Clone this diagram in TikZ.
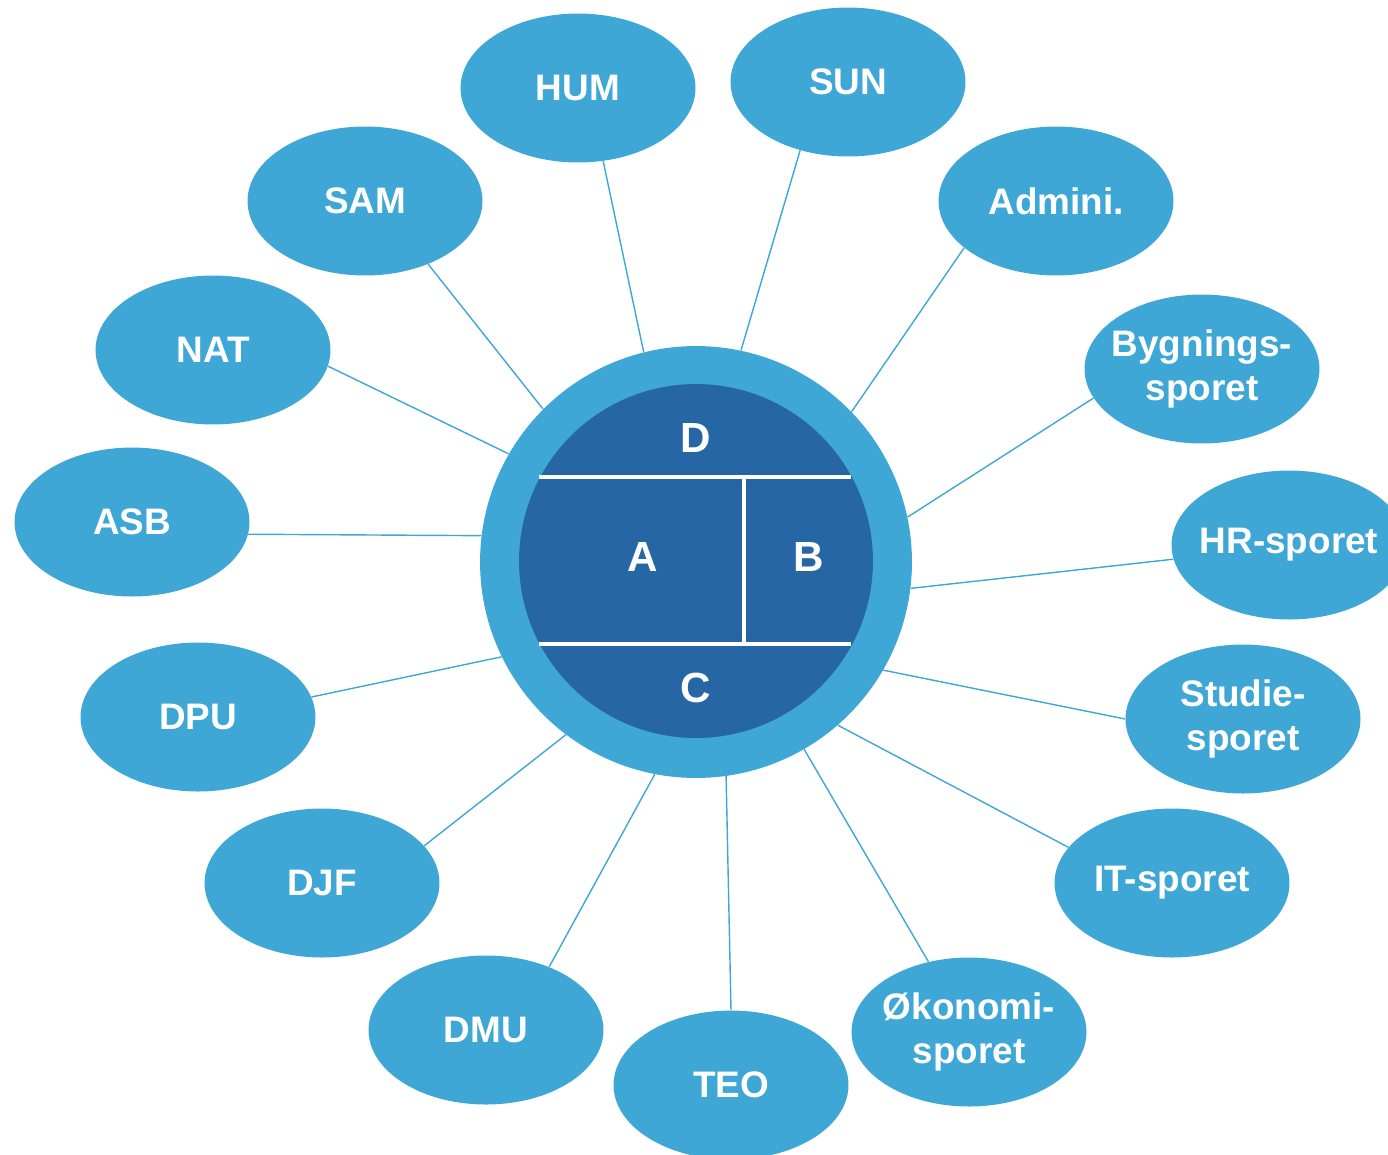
\documentclass[tikz,border=0pt]{standalone}
\usepackage{fontspec}
\setmainfont{Liberation Sans}
\usetikzlibrary{shapes.geometric}
\definecolor{lightblue}{HTML}{3EA7D6}
\definecolor{darkblue}{HTML}{2766A5}
\begin{document}
\begin{tikzpicture}[x=0.02cm, y=-0.02cm]
	\tikzstyle{unit} = [ellipse, fill=lightblue, text=white, minimum width=4.7cm, minimum height=2.98cm, inner xsep=-0.45cm, inner ysep=0pt, align=center, font=\fontsize{21}{25.5}\selectfont\bfseries]
	\tikzstyle{line} = [draw=lightblue, line width=0.8pt]
	\tikzstyle{part} = [text=white, font=\fontsize{24}{28}\selectfont\bfseries]
	\tikzstyle{divider} = [draw=white, line width=2.8pt]

	\clip (0,0) rectangle (1388,1154);

	% Place nodes
	\node [circle, fill=lightblue, minimum size=8.64cm, inner sep=0pt] (ring) at (696,562) {};
	\node [circle, fill=darkblue, minimum size=7.08cm, inner sep=0pt] (core) at (696,561) {};

	\node [unit] (hum) at (578,88) {HUM};
	\node [unit] (sun) at (848,82) {SUN};
	\node [unit] (sam) at (365,201) {SAM};
	\node [unit] (admini) at (1056,201) {Admini.};
	\node [unit] (nat) at (213,350) {NAT};
	\node [unit] (bygning) at (1202,369) {Bygnings-\\sporet};
	\node [unit] (asb) at (132,522) {ASB};
	\node [unit] (hr) at (1289,545) {HR-sporet};
	\node [unit] (dpu) at (198,717) {DPU};
	\node [unit] (studie) at (1243,719) {Studie-\\sporet};
	\node [unit] (djf) at (322,883) {DJF};
	\node [unit] (it) at (1172,883) {IT-sporet};
	\node [unit] (dmu) at (486,1030) {DMU};
	\node [unit] (okonomi) at (969,1032) {Økonomi-\\sporet};
	\node [unit] (teo) at (731,1085) {TEO};

	% Inner parts
	\coordinate (topL) at (539,477);
	\coordinate (topR) at (851,477);
	\coordinate (botL) at (539,644);
	\coordinate (botR) at (851,644);
	\coordinate (midT) at (744,477);
	\coordinate (midB) at (744,644);
	\path [divider] (topL) -- (topR);
	\path [divider] (botL) -- (botR);
	\path [divider] (midT) -- (midB);

	\node [part] (D) at (696,438) {D};
	\node [part] (A) at (643,557) {A};
	\node [part] (B) at (809,557) {B};
	\node [part] (C) at (696,688) {C};

	% Draw edges
	\path [line] (ring.104) -- (hum.-71);
	\path [line] (ring.78) -- (sun.-125);
	\path [line] (ring.135) -- (sam.-45);
	\path [line] (ring.44) -- (admini.-153);
	\path [line] (ring.150) -- (nat.-8);
	\path [line] (ring.12) -- (bygning.195);
	\path [line] (ring.173) -- (asb.-6);
	\path [line] (ring.-7) -- (hr.187);
	\path [line] (ring.206) -- (dpu.10);
	\path [line] (ring.-30) -- (studie.180);
	\path [line] (ring.233) -- (djf.20);
	\path [line] (ring.-49) -- (it.161);
	\path [line] (ring.259) -- (dmu.45);
	\path [line] (ring.-60) -- (okonomi.120);
	\path [line] (ring.-82) -- (teo.90);

\end{tikzpicture}
\end{document}
